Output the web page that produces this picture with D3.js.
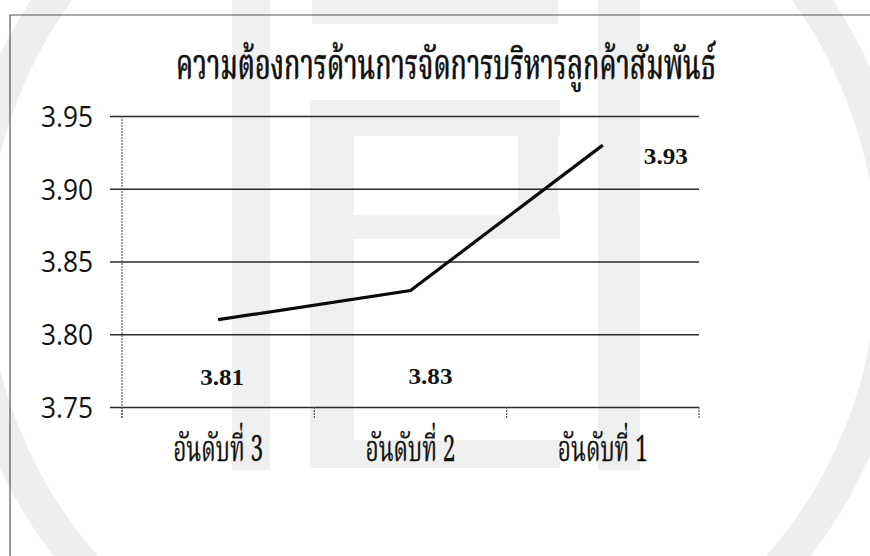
<!DOCTYPE html>
<html>
<head>
<meta charset="utf-8">
<script src="https://cdn.jsdelivr.net/npm/d3@7"></script>
<style>
  html, body { margin: 0; padding: 0; background: #ffffff; }
  svg { display: block; }
</style>
</head>
<body>
<svg id="chart" width="870" height="556"></svg>
<script>
// ---- data ----
const title = "ความต้องการด้านการจัดการบริหารลูกค้าสัมพันธ์";
const categories = ["อันดับที่ 3", "อันดับที่ 2", "อันดับที่ 1"];
const values = [3.81, 3.83, 3.93];
const valueLabels = ["3.81", "3.83", "3.93"];
const yTicks = [3.75, 3.80, 3.85, 3.90, 3.95];
const yTickLabels = ["3.75", "3.80", "3.85", "3.90", "3.95"];

// ---- layout ----
const W = 870, H = 556;
const plot = { left: 122, right: 699, top: 116, bottom: 407 };
const thaiFont = "'Noto Serif Thai', 'Noto Sans Thai', 'Norasi', 'Loma', 'Garuda', 'Tlwg Typo', 'Noto Sans', sans-serif";

const svg = d3.select("#chart");

// faint watermark in the scanned background
const wm = svg.append("g").attr("class", "watermark");
wm.append("circle").attr("cx", 432).attr("cy", 262).attr("r", 462)
  .attr("fill", "none").attr("stroke", "#eeeeee").attr("stroke-width", 34);
const wmRects = [
  [232, 0, 38, 470], [598, 0, 42, 470], [312, 0, 246, 24],
  [310, 100, 44, 368], [310, 100, 250, 36], [518, 136, 40, 100],
  [310, 215, 250, 24], [310, 440, 250, 28]
];
wm.selectAll("rect").data(wmRects).join("rect")
  .attr("x", d => d[0]).attr("y", d => d[1]).attr("width", d => d[2]).attr("height", d => d[3])
  .attr("fill", "#f0f0f0");

// outer frame (left and top edges visible)
svg.append("path").attr("d", "M10,556 V15 H870")
  .attr("fill", "none").attr("stroke", "#555").attr("stroke-width", 1.2);

// scales
const x = d3.scaleBand().domain(categories).range([plot.left, plot.right]);
const y = d3.scaleLinear().domain([3.75, 3.95]).range([plot.bottom, plot.top]);

// title
svg.append("text")
  .attr("x", 446).attr("y", 79)
  .attr("text-anchor", "middle")
  .attr("font-family", thaiFont)
  .attr("font-size", 42)
  .attr("font-weight", 500)
  .attr("fill", "#111")
  .attr("stroke", "#111").attr("stroke-width", 0.5)
  .attr("textLength", 540).attr("lengthAdjust", "spacingAndGlyphs")
  .text(title);

// y gridlines & labels
const yAxis = d3.axisLeft(y).tickValues(yTicks)
  .tickFormat((d, i) => yTickLabels[i])
  .tickSize(-(plot.right - plot.left)).tickPadding(29);
const gy = svg.append("g").attr("transform", `translate(${plot.left},0)`).call(yAxis);
gy.select(".domain").remove();
gy.selectAll(".tick line").attr("x1", -12).attr("stroke", "#2a2a2a").attr("stroke-width", 1.3);
gy.selectAll(".tick text")
  .attr("font-family", "'Open Sans', 'Noto Sans', sans-serif")
  .attr("font-size", 29).attr("fill", "#111")
  .attr("textLength", 52).attr("lengthAdjust", "spacingAndGlyphs")
  .attr("dy", "0.36em");

// y axis vertical line
svg.append("line")
  .attr("x1", plot.left).attr("x2", plot.left)
  .attr("y1", y(3.95)).attr("y2", plot.bottom + 11)
  .attr("stroke", "#555").attr("stroke-width", 1.1).attr("stroke-dasharray", "2,1");

// x axis tick marks at category boundaries
const boundaries = categories.map(c => x(c)).concat([x(categories[categories.length - 1]) + x.bandwidth()]);
svg.selectAll(".xtick").data(boundaries).join("line")
  .attr("class", "xtick")
  .attr("x1", d => d).attr("x2", d => d)
  .attr("y1", plot.bottom).attr("y2", plot.bottom + 11)
  .attr("stroke", "#555").attr("stroke-width", 1.2).attr("stroke-dasharray", "2,1");

// x category labels
svg.selectAll(".xlab").data(categories).join("text")
  .attr("class", "xlab")
  .attr("x", d => x(d) + x.bandwidth() / 2)
  .attr("y", 461)
  .attr("text-anchor", "middle")
  .attr("font-family", thaiFont)
  .attr("font-size", 36).attr("fill", "#111")
  .attr("stroke", "#111").attr("stroke-width", 0.3)
  .attr("textLength", 90).attr("lengthAdjust", "spacingAndGlyphs")
  .text(d => d);

// line
const line = d3.line()
  .x((d, i) => x(categories[i]) + x.bandwidth() / 2)
  .y(d => y(d));
svg.append("path").datum(values)
  .attr("d", line)
  .attr("fill", "none").attr("stroke", "#0a0a0a")
  .attr("stroke-width", 3.2).attr("stroke-linejoin", "miter");

// data labels (placed as in the original)
const labelPos = [
  { dx: 4, v: 3.765 },
  { dx: 20, v: 3.766 },
  { dx: 63, v: 3.917 }
];
svg.selectAll(".vlab").data(values).join("text")
  .attr("class", "vlab")
  .attr("x", (d, i) => x(categories[i]) + x.bandwidth() / 2 + labelPos[i].dx)
  .attr("y", (d, i) => y(labelPos[i].v))
  .attr("text-anchor", "middle")
  .attr("font-family", "'Liberation Serif', 'Times New Roman', serif")
  .attr("font-weight", "bold")
  .attr("font-size", 24).attr("fill", "#111")
  .attr("textLength", 44).attr("lengthAdjust", "spacingAndGlyphs")
  .text((d, i) => valueLabels[i]);
</script>
</body>
</html>
